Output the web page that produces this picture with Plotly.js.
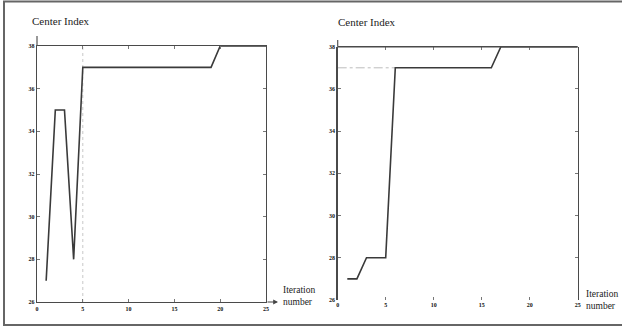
<!DOCTYPE html>
<html>
<head>
<meta charset="utf-8">
<script src="https://cdn.plot.ly/plotly-3.0.1.min.js"></script>
<style>html,body{margin:0;padding:0;background:#fff;}#chart{width:622px;height:330px;}</style>
</head>
<body>
<div id="chart"></div>
<script>
// Left panel series
const leftIter = [1, 2, 3, 4, 5, 19, 20, 25];
const leftCenter = [27, 35, 35, 28, 37, 37, 38, 38];
const leftGuideX = [5, 5];
const leftGuideY = [26, 38];
// Right panel series
const rightIter = [1, 2, 3, 5, 6, 16, 17, 25];
const rightCenter = [27, 27, 28, 28, 37, 37, 38, 38];
const rightGuideX = [0, 6];
const rightGuideY = [37, 37];
// Tick labels
const xTicks = [0, 5, 10, 15, 20, 25];
const yTicks = [26, 28, 30, 32, 34, 36, 38];

const W = 622, H = 330;
const px = v => v / W;
const py = v => (H - v) / H;

const lineStyle = {color: '#3a3a3a', width: 1.6};
const traces = [
  {x: leftGuideX, y: leftGuideY, xaxis: 'x', yaxis: 'y', mode: 'lines',
   line: {color: '#c8c8c8', width: 1, dash: 'dot'}, hoverinfo: 'skip'},
  {x: leftIter, y: leftCenter, xaxis: 'x', yaxis: 'y', mode: 'lines', line: lineStyle},
  {x: rightGuideX, y: rightGuideY, xaxis: 'x2', yaxis: 'y2', mode: 'lines',
   line: {color: '#bdbdbd', width: 1, dash: 'dashdot'}, hoverinfo: 'skip'},
  {x: rightIter, y: rightCenter, xaxis: 'x2', yaxis: 'y2', mode: 'lines', line: lineStyle}
];

const tickFont = {family: 'Liberation Serif', size: 6, color: '#111', weight: 'bold'};
function xa(domain, anchor, showline) {
  return {domain: domain, anchor: anchor, range: [0, 25], tickvals: xTicks,
    ticktext: xTicks.map(String), showgrid: false, zeroline: false,
    showline: showline, linecolor: '#4a4a4a', linewidth: 1.4, mirror: 'ticks',
    ticks: 'inside', ticklen: 3, tickcolor: '#777', tickfont: tickFont, fixedrange: true};
}
function ya(domain, anchor) {
  return {domain: domain, anchor: anchor, range: [26, 38], tickvals: yTicks,
    ticktext: yTicks.map(String), showgrid: false, zeroline: false,
    showline: true, linecolor: '#4a4a4a', linewidth: 1.4, mirror: 'ticks',
    ticks: 'inside', ticklen: 3, tickcolor: '#777', tickfont: tickFont, fixedrange: true};
}

const L = {x0: 37, x1: 266, y0: 46, y1: 302};
const R = {x0: 337.7, x1: 577.7, y0: 46.7, y1: 300};

const shapes = [
  // outer border
  {type: 'rect', xref: 'paper', yref: 'paper', x0: px(4), x1: px(640), y0: py(325), y1: py(1.5),
   line: {color: '#666', width: 2}},
  // left y-axis extension
  {type: 'line', xref: 'paper', yref: 'paper', x0: px(L.x0), x1: px(L.x0), y0: py(L.y0), y1: py(36), line: {color: '#555', width: 1.2}},
  // right frame top
  {type: 'line', xref: 'paper', yref: 'paper', x0: px(R.x0), x1: px(R.x1), y0: py(R.y0), y1: py(R.y0), line: {color: '#4a4a4a', width: 1.4}},
  {type: 'line', xref: 'paper', yref: 'paper', x0: px(R.x0), x1: px(R.x0), y0: py(R.y0), y1: py(40), line: {color: '#555', width: 1.2}}
];

const titleFont = {family: 'Liberation Serif', size: 11, color: '#222'};
const sideFont = {family: 'Liberation Serif', size: 9.5, color: '#222'};
const annotations = [
  {xref: 'paper', yref: 'paper', x: px(30), y: py(21), xanchor: 'left', yanchor: 'middle',
   text: 'Center Index', showarrow: false, font: titleFont},
  {xref: 'paper', yref: 'paper', x: px(336), y: py(22), xanchor: 'left', yanchor: 'middle',
   text: 'Center Index', showarrow: false, font: titleFont},
  {xref: 'paper', yref: 'paper', x: px(281), y: py(296), xanchor: 'left', yanchor: 'middle',
   text: 'Iteration<br>number', align: 'left', showarrow: false, font: sideFont},
  {xref: 'paper', yref: 'paper', x: px(584), y: py(300), xanchor: 'left', yanchor: 'middle',
   text: 'Iteration<br>number', align: 'left', showarrow: false, font: sideFont},
  // left x-axis arrow
  {xref: 'paper', yref: 'paper', x: px(278), y: py(L.y1), ax: -12, ay: 0, text: '',
   showarrow: true, arrowhead: 2, arrowsize: 0.8, arrowwidth: 1.2, arrowcolor: '#444'}
];

const layout = {
  width: W, height: H, margin: {l: 0, r: 0, t: 0, b: 0},
  paper_bgcolor: '#fff', plot_bgcolor: '#fff', showlegend: false,
  xaxis: xa([px(L.x0), px(L.x1)], 'y', true),
  yaxis: ya([py(L.y1), py(L.y0)], 'x'),
  xaxis2: xa([px(R.x0), px(R.x1)], 'y2', false),
  yaxis2: ya([py(R.y1), py(R.y0)], 'x2'),
  shapes: shapes, annotations: annotations
};

Plotly.newPlot('chart', traces, layout, {displayModeBar: false, staticPlot: true});
</script>
</body>
</html>
